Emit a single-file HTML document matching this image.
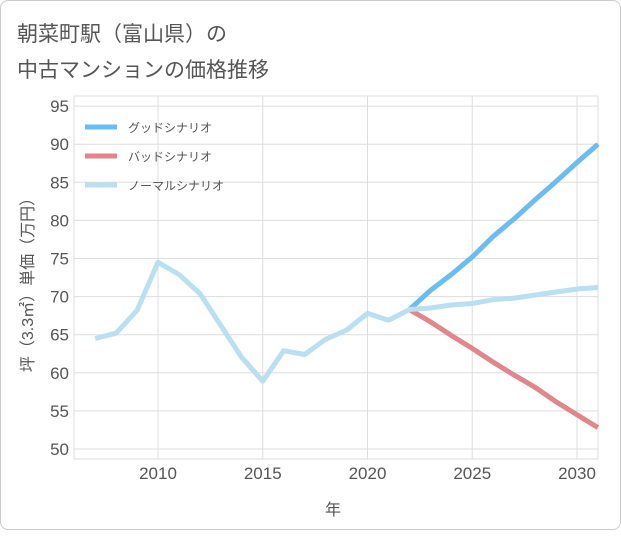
<!DOCTYPE html>
<html><head><meta charset="utf-8">
<style>
body{margin:0;background:#fff;}
#card{position:absolute;left:0;top:0;width:619px;height:528px;border:1px solid #ccc;border-radius:8px;background:#fff;}
svg text{font-family:"Liberation Sans","Noto Sans CJK JP",sans-serif;}
</style></head><body>
<div id="card">
<svg id="chart" width="621" height="530">
<text x="16" y="40" font-size="21" fill="#555">朝菜町駅（富山県）の</text>
<text x="16" y="76" font-size="21" fill="#555">中古マンションの価格推移</text>
<rect x="73" y="95" width="524" height="363" fill="none" stroke="#ddd"/>
<g id="grid"></g><g id="lines"></g>
<text x="332" y="514" font-size="16" fill="#555" text-anchor="middle">年</text>
<text transform="translate(32,280) rotate(-90)" font-size="16" fill="#555" text-anchor="middle">坪（3.3㎡）単価（万円）</text>
<g>
<line x1="84" y1="126" x2="116" y2="126" stroke="#6bbcf0" stroke-width="5"/>
<text x="127" y="131" font-size="12" fill="#555">グッドシナリオ</text>
<line x1="84" y1="155" x2="116" y2="155" stroke="#e0868c" stroke-width="5"/>
<text x="127" y="160" font-size="12" fill="#555">バッドシナリオ</text>
<line x1="84" y1="184" x2="116" y2="184" stroke="#b9dff0" stroke-width="5"/>
<text x="127" y="189" font-size="12" fill="#555">ノーマルシナリオ</text>
</g>
</svg></div>
<script>
const yTicks=[50,55,60,65,70,75,80,85,90,95];
const xTicks=[2010,2015,2020,2025,2030];
const normalYears=[2007,2008,2009,2010,2011,2012,2013,2014,2015,2016,2017,2018,2019,2020,2021,2022,2023,2024,2025,2026,2027,2028,2029,2030,2031];
const normalValues=[64.5,65.2,68.2,74.5,72.9,70.4,66.2,62.0,58.9,62.9,62.4,64.4,65.6,67.8,66.9,68.3,68.5,68.9,69.1,69.6,69.8,70.2,70.6,71.0,71.2];
const scenarioYears=[2022,2023,2024,2025,2026,2027,2028,2029,2030,2031];
const goodValues=[68.3,70.8,72.9,75.2,77.9,80.2,82.7,85.1,87.6,90.0];
const badValues=[68.3,66.7,64.9,63.2,61.4,59.7,58.1,56.2,54.5,52.8];
const NS='http://www.w3.org/2000/svg';
const xs=y=>157+(y-2010)*20.95;
const ys=v=>448-(v-50)*7.62;
const grid=document.getElementById('grid'),lines=document.getElementById('lines');
function mk(tag,attrs,parent){const e=document.createElementNS(NS,tag);for(const k in attrs)e.setAttribute(k,attrs[k]);parent.appendChild(e);return e;}
yTicks.forEach(t=>{
 const l=mk('line',{x1:73,x2:597,y1:ys(t),y2:ys(t),stroke:'#ddd'},grid);
 
 
 const tx=mk('text',{x:68,y:ys(t)+6,'font-size':17,fill:'#555','text-anchor':'end'},grid);
 tx.textContent=t;
 
 
});
xTicks.forEach(t=>{
 const l=mk('line',{x1:xs(t),x2:xs(t),y1:95,y2:458,stroke:'#ddd'},grid);
 
 
 const tx=mk('text',{x:xs(t),y:478,'font-size':17,fill:'#555','text-anchor':'middle'},grid);
 tx.textContent=t;
 
 
});
function series(years,vals,color,name){
 const p=mk('polyline',{points:years.map((y,i)=>xs(y)+','+ys(vals[i])).join(' '),fill:'none',stroke:color,'stroke-width':5,'stroke-linejoin':'round'},lines);
 
 
}
series(scenarioYears,goodValues,'#6bbcf0','good-scenario-line');
series(scenarioYears,badValues,'#e0868c','bad-scenario-line');
series(normalYears,normalValues,'#b9dff0','normal-scenario-line');
</script>
</body></html>
